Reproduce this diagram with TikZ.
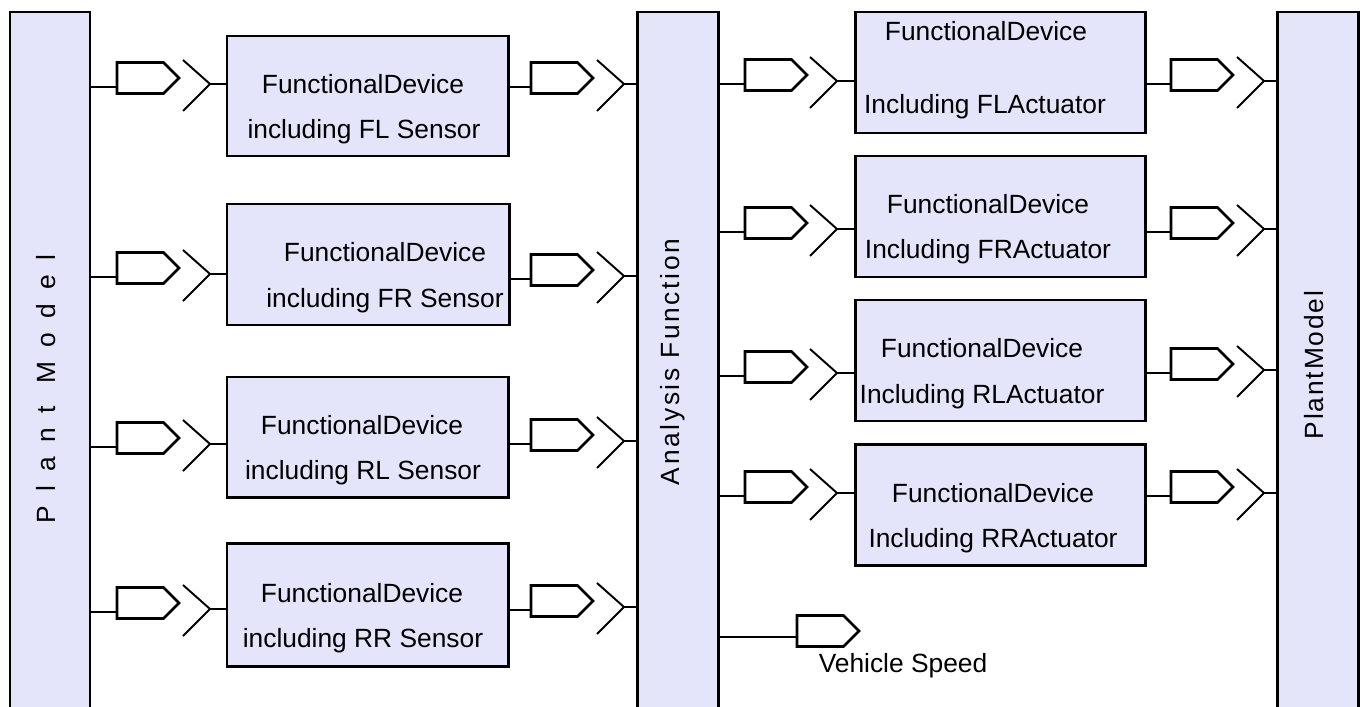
\documentclass[tikz,border=0pt]{standalone}
\usepackage{fontspec}
\setmainfont{Liberation Sans}
\usetikzlibrary{shapes.symbols,fit}
\definecolor{blockfill}{RGB}{228,228,250}

% one port link: source line, output port, input chevron, line into target
% #1 id, #2 source node, #3 target node, #4 y of source line,
% #5 x of output port, #6 x of input chevron
\newcommand\sigport[6]{%
  \path (0,#4) coordinate (#1y);
  \coordinate (#1s) at (#2.east |- #1y);
  \node[outport, anchor=west] (#1p) at (#5,#4-9) {};
  \draw[wire] (#1s) -- (#1p.west |- #1s);
  \coordinate (#1t) at (#6+27,#4-3);
  \draw[chev] (#6,#4-27) -- (#1t) -- (#6,#4+24);
  \draw[wire] (#1t) -- (#3.west |- #1t);
}

\begin{document}
\begin{tikzpicture}[x=0.02cm, y=-0.02cm,
  font=\fontsize{15}{18}\selectfont,
  block/.style={draw, line width=1.7pt, fill=blockfill, inner sep=0pt, outer sep=0pt},
  outport/.style={signal, signal to=east, signal pointer angle=90, draw, fill=white,
    line width=1.5pt, minimum width=1.24cm, minimum height=0.62cm, inner sep=0pt, outer sep=0pt},
  wire/.style={line width=0.9pt},
  chev/.style={line width=1.1pt},
  txt/.style={anchor=base, inner sep=0pt},
  bartxt/.style={rotate=90, inner sep=0pt}]
\useasboundingbox (0,0) rectangle (1364,706);
\clip (0,0) rectangle (1364,706);

% vertical bars
\node[block, fit={(10,12) (90,760)}] (plantL) {};
\node[block, fit={(637,12) (718,760)}] (afun) {};
\node[block, fit={(1277,12) (1358,760)}] (plantR) {};
\node[bartxt, font=\fontsize{15}{18}\selectfont\addfontfeature{LetterSpace=55}] (plantLtxt) at (46,389) {Plant Model};
\node[bartxt, font=\fontsize{15}{18}\selectfont\addfontfeature{LetterSpace=10}] (afuntxt) at (673,362) {Analysis Function};
\node[bartxt, font=\fontsize{15}{18}\selectfont\addfontfeature{LetterSpace=7}] (plantRtxt) at (1314,365) {PlantModel};

% sensor devices
\node[block, fit={(227,36) (508,156)}] (sFL) {};
\node[block, fit={(227,204) (509,325)}] (sFR) {};
\node[block, fit={(227,377) (508,497)}] (sRL) {};
\node[block, fit={(227,543) (508,666)}] (sRR) {};
\node[txt] (sFLa) at (363,93) {FunctionalDevice};
\node[txt] (sFLb) at (364,138) {including FL Sensor};
\node[txt] (sFRa) at (385,261) {FunctionalDevice};
\node[txt] (sFRb) at (385,307) {including FR Sensor};
\node[txt] (sRLa) at (362,434) {FunctionalDevice};
\node[txt] (sRLb) at (363,479) {including RL Sensor};
\node[txt] (sRRa) at (362,602) {FunctionalDevice};
\node[txt] (sRRb) at (363,647) {including RR Sensor};

% actuator devices
\node[block, fit={(855,12) (1145,133)}] (aFL) {};
\node[block, fit={(855,156) (1145,277)}] (aFR) {};
\node[block, fit={(855,300) (1145,421)}] (aRL) {};
\node[block, fit={(855,444) (1145,565)}] (aRR) {};
\node[txt] (aFLa) at (986,41) {FunctionalDevice};
\node[txt] (aFLb) at (985,113) {Including FLActuator};
\node[txt] (aFRa) at (988,213) {FunctionalDevice};
\node[txt] (aFRb) at (988,258) {Including FRActuator};
\node[txt] (aRLa) at (982,357) {FunctionalDevice};
\node[txt] (aRLb) at (982,403) {Including RLActuator};
\node[txt] (aRRa) at (993,502) {FunctionalDevice};
\node[txt] (aRRb) at (993,547) {Including RRActuator};

% plant -> sensors
\sigport{a1}{plantL}{sFL}{87}{117}{183}
\sigport{a2}{plantL}{sFR}{277}{117}{183}
\sigport{a3}{plantL}{sRL}{447}{117}{183}
\sigport{a4}{plantL}{sRR}{612}{117}{183}
% sensors -> analysis
\sigport{b1}{sFL}{afun}{87}{531}{597}
\sigport{b2}{sFR}{afun}{279}{531}{597}
\sigport{b3}{sRL}{afun}{444}{531}{597}
\sigport{b4}{sRR}{afun}{610}{531}{597}
% analysis -> actuators
\sigport{c1}{afun}{aFL}{84}{745}{810}
\sigport{c2}{afun}{aFR}{232}{745}{810}
\sigport{c3}{afun}{aRL}{376}{745}{810}
\sigport{c4}{afun}{aRR}{496}{745}{810}
% actuators -> plant
\sigport{d1}{aFL}{plantR}{84}{1171}{1237}
\sigport{d2}{aFR}{plantR}{232}{1171}{1237}
\sigport{d3}{aRL}{plantR}{373}{1171}{1237}
\sigport{d4}{aRR}{plantR}{496}{1171}{1237}

% vehicle speed output
\path (0,637) coordinate (vy);
\coordinate (vs) at (afun.east |- vy);
\node[outport, anchor=west] (vsp) at (797,631) {};
\draw[wire] (vs) -- (vsp.west |- vs);
\node[txt] (vslabel) at (903,672) {Vehicle Speed};
\end{tikzpicture}
\end{document}
